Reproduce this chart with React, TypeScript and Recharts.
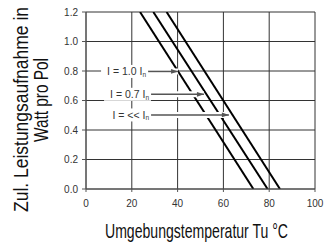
import React from 'react';
import { LineChart, Line, XAxis, YAxis, CartesianGrid, Label } from 'recharts';

// Temperature (°C) vs. permissible power (W per pole)
const lineFull = [{ t: 23.6, w: 1.2 }, { t: 73.1, w: 0 }];   // I = 1.0 In
const lineSeven = [{ t: 29.4, w: 1.2 }, { t: 79.3, w: 0 }];  // I = 0.7 In
const lineLow = [{ t: 35.2, w: 1.2 }, { t: 84.7, w: 0 }];    // I = << In

const xTicks = [0, 20, 40, 60, 80, 100];
const yTicks = [0, 0.2, 0.4, 0.6, 0.8, 1.0, 1.2];

const annoText = ['I = 1.0 I', 'I = 0.7 I', 'I = << I'];
const annoSub = ['n', 'n', 'n'];
const annoStartT = [27.1, 28.4, 28.4];
const annoTipT = [40.2, 51.5, 62.4];
const annoW = [0.797, 0.642, 0.502];

const annoData = annoText.map((_, i) => [
  { t: annoStartT[i], w: annoW[i] },
  { t: annoTipT[i], w: annoW[i] },
]);

const xTitle = 'Umgebungstemperatur Tu °C';
const yTitle1 = 'Zul. Leistungsaufnahme in';
const yTitle2 = 'Watt pro Pol';

const tickFont = "'Liberation Sans', Arial, Helvetica, sans-serif";
const titleFont = "'Liberation Sans Narrow', 'Liberation Sans', Arial, sans-serif";

const makeDot = (i: number) => (props: any) => {
  const { cx, cy, index } = props;
  if (index === 0) {
    const textW = 44;
    return (
      <g key={`d${i}-${index}`}>
        <rect x={cx - textW - 3} y={cy - 6.5} width={textW + 3} height={13} fill="#fff" />
        <text x={cx - 2} y={cy + 3.8} textAnchor="end" fontSize={10.5} fontFamily={tickFont} fill="#333">
          {annoText[i]}
          <tspan fontSize={6.5} dy={1.5}>{annoSub[i]}</tspan>
        </text>
      </g>
    );
  }
  const head = 7;
  return (
    <polygon
      key={`d${i}-${index}`}
      points={`${cx},${cy} ${cx - head},${cy - 2.4} ${cx - head},${cy + 2.4}`}
      fill="#555"
    />
  );
};

export default function App() {
  return (
    <div style={{ position: 'absolute', left: 0, top: 0 }}>
      <LineChart width={324} height={251} margin={{ top: 12, right: 9, bottom: 0, left: 0 }}>
        <CartesianGrid stroke="#333" strokeWidth={1} />
        <XAxis
          type="number"
          dataKey="t"
          domain={[0, 100]}
          ticks={xTicks}
          allowDataOverflow
          height={62}
          tickSize={3}
          tickMargin={8}
          stroke="#555"
          tick={{ fontSize: 10, fontFamily: tickFont, fill: '#333' }}
        >
          <Label
            content={() => (
              <text x={105} y={238} fontSize={21} fontFamily={titleFont} fill="#111" textLength={183} lengthAdjust="spacingAndGlyphs">
                {xTitle}
              </text>
            )}
          />
        </XAxis>
        <YAxis
          type="number"
          domain={[0, 1.2]}
          ticks={yTicks}
          allowDataOverflow
          width={86}
          tickSize={4}
          tickMargin={4}
          stroke="#555"
          tickFormatter={(v: number) => v.toFixed(1)}
          tick={{ fontSize: 10, fontFamily: tickFont, fill: '#333' }}
        >
          <Label
            content={() => (
              <g>
                <text transform="translate(28,109.5) rotate(-90)" textAnchor="middle" fontSize={21} fontFamily={titleFont} fill="#111" textLength={205} lengthAdjust="spacingAndGlyphs">
                  {yTitle1}
                </text>
                <text transform="translate(48,100) rotate(-90)" textAnchor="middle" fontSize={21} fontFamily={titleFont} fill="#111" textLength={84} lengthAdjust="spacingAndGlyphs">
                  {yTitle2}
                </text>
              </g>
            )}
          />
        </YAxis>
        <Line data={lineFull} dataKey="w" stroke="#000" strokeWidth={2} dot={false} isAnimationActive={false} />
        <Line data={lineSeven} dataKey="w" stroke="#000" strokeWidth={2} dot={false} isAnimationActive={false} />
        <Line data={lineLow} dataKey="w" stroke="#000" strokeWidth={2} dot={false} isAnimationActive={false} />
        {annoData.map((d, i) => (
          <Line
            key={`h${i}`}
            data={d}
            dataKey="w"
            stroke="#fff"
            strokeWidth={6}
            strokeLinecap="butt"
            dot={false}
            activeDot={false}
            isAnimationActive={false}
          />
        ))}
        {annoData.map((d, i) => (
          <Line
            key={`a${i}`}
            data={d}
            dataKey="w"
            stroke="#555"
            strokeWidth={1.5}
            dot={makeDot(i)}
            activeDot={false}
            isAnimationActive={false}
          />
        ))}
      </LineChart>
    </div>
  );
}
